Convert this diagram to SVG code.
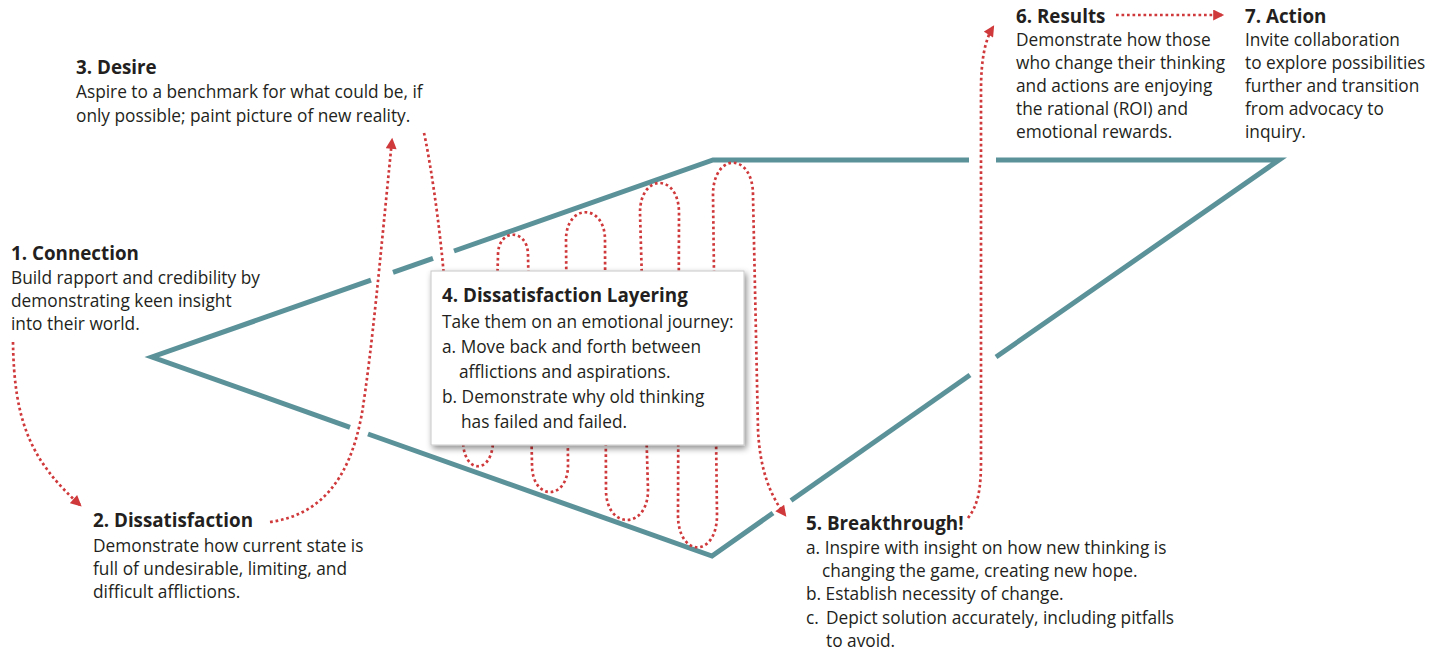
<svg xmlns="http://www.w3.org/2000/svg" width="1439" height="654" viewBox="0 0 1439 654">
<style>
  .t{font-family:"Open Sans","Noto Sans",sans-serif;font-size:17.3px;fill:#231f20}
  .h{font-family:"Open Sans","Noto Sans",sans-serif;font-size:18.8px;font-weight:bold;fill:#231f20}
  .teal{fill:none;stroke:#5b9299;stroke-width:5;stroke-linejoin:miter;stroke-linecap:butt}
  .red{fill:none;stroke:#d0393b;stroke-width:2.7;stroke-dasharray:2.7 2.8}
</style>
<defs>
  <marker id="arr" viewBox="0 0 10 10" refX="8" refY="5" markerWidth="12" markerHeight="11" markerUnits="userSpaceOnUse" orient="auto">
    <path d="M0,0 L10,5 L0,10 z" fill="#d0393b"/>
  </marker>
  <filter id="sh" x="-10%" y="-10%" width="125%" height="130%">
    <feDropShadow dx="2" dy="3" stdDeviation="3" flood-color="#000" flood-opacity="0.45"/>
  </filter>
</defs>
<rect width="1439" height="654" fill="#fff"/>

<g id="shape">
  <polyline class="teal" points="371,280.1 152,357 350,427.3"/>
  <line class="teal" x1="393" y1="272.4" x2="433" y2="258.4"/>
  <polyline class="teal" points="454,251 713,160 969,160"/>
  <polyline class="teal" points="996,160 1279,160 996,357"/>
  <line class="teal" x1="970" y1="375" x2="791" y2="500.5"/>
  <polyline class="teal" points="773,513 712,556 368,434"/>
</g>

<g id="connectors">
  <path class="red" d="M 13 342 C 14 420, 30 460, 80 505" marker-end="url(#arr)"/>
  <path class="red" d="M 270 522 C 320 515, 350 480, 362 413 C 372 350, 380 260, 392 140" marker-end="url(#arr)"/>
  <path class="red" d="M 424 133 C 428 150, 440 220, 445 290 L 463 440 C 463 475, 493 475, 493 440 L 498 255 C 498 228, 528 228, 528 255 L 532 465 C 532 501, 568 501, 568 465 L 566 240 C 566 203, 605 203, 605 240 L 606 490 C 606 530, 648 530, 648 490 L 640 213 C 640 173, 679 173, 679 213 L 678 515 C 678 558, 717 558, 717 515 L 713 195 C 713 152, 753 152, 753 195 L 758 430 C 760 470, 770 495, 785 515" marker-end="url(#arr)"/>
  <path class="red" d="M 968 518 C 978 505, 981 490, 981 460 L 981 90 C 981 60, 985 40, 993 27" marker-end="url(#arr)"/>
  <path class="red" d="M 1116 15 L 1222 15" marker-end="url(#arr)"/>
</g>

<g id="n1">
  <text class="h" x="11" y="260">1. Connection</text>
  <text class="t" x="11" y="284">Build rapport and credibility by</text>
  <text class="t" x="11" y="307">demonstrating keen insight</text>
  <text class="t" x="11" y="330">into their world.</text>
</g>
<g id="n2">
  <text class="h" x="93" y="527">2. Dissatisfaction</text>
  <text class="t" x="93" y="552">Demonstrate how current state is</text>
  <text class="t" x="93" y="575">full of undesirable, limiting, and</text>
  <text class="t" x="93" y="598">difficult afflictions.</text>
</g>
<g id="n3">
  <text class="h" x="76" y="74">3. Desire</text>
  <text class="t" x="76" y="98">Aspire to a benchmark for what could be, if</text>
  <text class="t" x="76" y="122">only possible; paint picture of new reality.</text>
</g>
<g id="n4">
  <rect x="431" y="271" width="313" height="174" fill="#fff" stroke="#c8c8c8" stroke-width="1" filter="url(#sh)"/>
  <text class="h" x="442" y="302">4. Dissatisfaction Layering</text>
  <text class="t" x="442" y="328">Take them on an emotional journey:</text>
  <text class="t" x="442" y="353">a. Move back and forth between</text>
  <text class="t" x="459" y="378">afflictions and aspirations.</text>
  <text class="t" x="442" y="403">b. Demonstrate why old thinking</text>
  <text class="t" x="461" y="428">has failed and failed.</text>
</g>
<g id="n5">
  <text class="h" x="806" y="530">5. Breakthrough!</text>
  <text class="t" x="806" y="554">a. Inspire with insight on how new thinking is</text>
  <text class="t" x="822" y="577">changing the game, creating new hope.</text>
  <text class="t" x="806" y="600">b. Establish necessity of change.</text>
  <text class="t" x="806" y="624">c.<tspan x="826">Depict solution accurately, including pitfalls</tspan></text>
  <text class="t" x="826" y="647">to avoid.</text>
</g>
<g id="n6">
  <text class="h" x="1016" y="23">6. Results</text>
  <text class="t" x="1016" y="46">Demonstrate how those</text>
  <text class="t" x="1016" y="69">who change their thinking</text>
  <text class="t" x="1016" y="92">and actions are enjoying</text>
  <text class="t" x="1016" y="115">the rational (ROI) and</text>
  <text class="t" x="1016" y="138">emotional rewards.</text>
</g>
<g id="n7">
  <text class="h" x="1245" y="23">7. Action</text>
  <text class="t" x="1245" y="46">Invite collaboration</text>
  <text class="t" x="1245" y="69">to explore possibilities</text>
  <text class="t" x="1245" y="92">further and transition</text>
  <text class="t" x="1245" y="115">from advocacy to</text>
  <text class="t" x="1245" y="138">inquiry.</text>
</g>
</svg>
